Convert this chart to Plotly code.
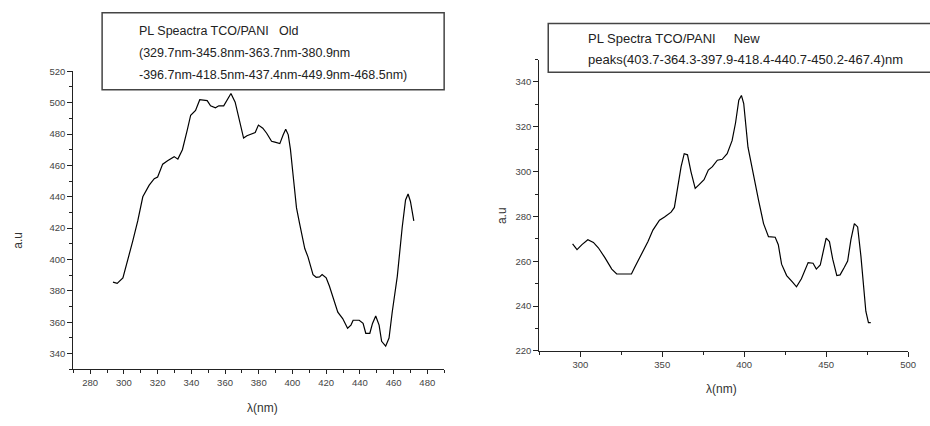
import plotly.graph_objects as go

# ---------------- data ----------------
old_wavelength = [293.5, 296.0, 299.4, 302.4, 305.3, 308.2, 311.2, 315.0, 318.0, 320.0,
                  323.0, 325.9, 329.8, 332.0, 334.7, 337.6, 339.6, 342.5, 345.0, 349.4,
                  351.4, 354.3, 356.3, 359.2, 361.2, 363.5, 366.0, 368.0, 370.0, 371.0,
                  373.0, 376.9, 377.9, 379.8, 382.4, 384.7, 387.6, 389.6, 392.5, 394.5,
                  396.0, 397.5, 398.8, 400.4, 402.4, 404.3, 407.3, 409.2, 412.2, 414.1,
                  416.1, 417.6, 420.0, 421.9, 423.9, 425.9, 426.9, 429.8, 432.7, 434.7,
                  436.0, 439.6, 441.9, 443.5, 445.9, 447.5, 449.4, 451.4, 452.9, 455.3,
                  457.3, 459.2, 462.2, 465.1, 467.1, 468.6, 470.0, 472.0]
old_intensity = [385.6, 384.8, 388.3, 399.7, 412.0, 424.6, 440.0, 447.4, 451.5, 452.6,
                 460.8, 463.0, 465.6, 464.0, 470.0, 482.6, 492.0, 495.0, 501.9, 501.3,
                 498.0, 496.7, 498.0, 498.0, 501.3, 505.8, 500.3, 491.0, 480.5, 477.4,
                 478.9, 480.5, 481.0, 485.7, 483.7, 480.5, 475.4, 474.8, 473.9, 479.5,
                 483.0, 479.5, 470.2, 453.6, 432.9, 422.5, 407.0, 401.7, 390.4, 388.7,
                 388.9, 390.4, 388.3, 383.1, 376.9, 370.7, 366.5, 362.4, 356.2, 358.2,
                 361.3, 361.3, 359.3, 353.0, 353.0, 359.3, 364.0, 358.2, 347.9, 344.8,
                 350.0, 366.6, 389.3, 420.4, 438.0, 441.8, 437.0, 424.6]

new_wavelength = [295.3, 298.0, 301.0, 304.6, 308.0, 311.0, 315.0, 319.2, 322.2, 327.2,
                  331.2, 333.2, 337.3, 341.3, 344.3, 348.3, 351.4, 355.4, 357.4, 359.4,
                  361.5, 363.4, 365.4, 367.5, 370.1, 372.5, 375.5, 378.1, 380.6, 383.6,
                  386.6, 389.6, 392.6, 394.7, 396.7, 398.3, 399.7, 402.3, 406.2, 408.8,
                  411.8, 414.8, 418.9, 420.8, 422.8, 425.9, 429.5, 431.9, 434.9, 439.0,
                  442.0, 444.0, 446.4, 450.0, 452.0, 454.0, 456.5, 458.5, 461.1, 463.1,
                  465.1, 467.2, 469.2, 471.2, 474.2, 475.8, 477.2]
new_intensity = [267.7, 265.2, 267.4, 269.6, 268.4, 266.0, 261.6, 256.5, 254.3, 254.3,
                 254.3, 257.3, 263.0, 268.8, 273.9, 278.3, 279.7, 281.9, 284.0, 292.7,
                 302.2, 308.0, 307.5, 300.0, 292.5, 294.2, 296.4, 300.7, 302.2, 305.1,
                 305.5, 308.0, 313.8, 321.7, 331.9, 334.0, 330.4, 310.9, 295.7, 287.0,
                 276.8, 271.0, 270.7, 267.4, 258.7, 253.6, 250.7, 248.6, 252.2, 259.4,
                 259.1, 256.5, 258.3, 270.3, 268.8, 260.9, 253.6, 253.9, 257.3, 260.1,
                 269.6, 276.8, 275.3, 262.3, 237.7, 232.6, 232.6]

old_legend_lines = ["PL Speactra TCO/PANI\u00a0\u00a0\u00a0Old",
                    "(329.7nm-345.8nm-363.7nm-380.9nm",
                    "-396.7nm-418.5nm-437.4nm-449.9nm-468.5nm)"]
new_legend_lines = ["PL Spectra TCO/PANI\u00a0\u00a0\u00a0\u00a0\u00a0New",
                    "peaks(403.7-364.3-397.9-418.4-440.7-450.2-467.4)nm"]
y_title = "a.u"
x_title = "\u03bb(nm)"

# ---------------- layout helpers (pixel -> paper) ----------------
W, H = 930, 426
def px(x):
    return x / W
def py(y):
    return 1 - y / H

FONT = "Liberation Sans, Arial, sans-serif"
AX = "#222222"

fig = go.Figure()
fig.add_trace(go.Scatter(x=old_wavelength, y=old_intensity, mode="lines",
                         line=dict(color="black", width=1.2), xaxis="x", yaxis="y",
                         showlegend=False, hoverinfo="skip"))
fig.add_trace(go.Scatter(x=new_wavelength, y=new_intensity, mode="lines",
                         line=dict(color="black", width=1.2), xaxis="x2", yaxis="y2",
                         showlegend=False, hoverinfo="skip"))

def axis(domain, rng, dtick, minor_dtick, anchor, ticklen=5):
    return dict(domain=domain, range=rng, dtick=dtick, tick0=0, anchor=anchor,
                showline=True, linecolor=AX, linewidth=1.2, mirror=False,
                ticks="outside", ticklen=ticklen, tickwidth=1, tickcolor=AX,
                minor=dict(dtick=minor_dtick, tick0=0, ticks="outside", ticklen=3,
                           tickwidth=1, tickcolor=AX),
                showgrid=False, zeroline=False,
                tickfont=dict(family=FONT, size=9.5, color="#444444"))

fig.update_layout(
    width=W, height=H, margin=dict(l=0, r=0, t=0, b=0),
    paper_bgcolor="white", plot_bgcolor="white",
    xaxis=axis([px(74), px(448)], [270, 490], 20, 10, "y", 4),
    yaxis=axis([py(373), py(67)], [330, 520], 20, 10, "x", 5),
    xaxis2=axis([px(544), px(916)], [275, 500], 50, 25, "y2", 5),
    yaxis2=axis([py(354), py(55)], [220, 350], 20, 10, "x2", 5),
    showlegend=False,
)

shapes = [
    dict(type="rect", xref="paper", yref="paper", x0=px(103), x1=px(448),
         y0=py(86), y1=py(7), line=dict(color="#444444", width=1.5)),
    dict(type="rect", xref="paper", yref="paper", x0=px(553), x1=px(940),
         y0=py(68), y1=py(18), line=dict(color="#444444", width=1.5)),
]
fig.update_layout(shapes=shapes)

ann = []
for i, t in enumerate(old_legend_lines):
    ann.append(dict(text=t, x=px(138), y=py([26, 48, 71][i]), xref="paper", yref="paper",
                    xanchor="left", yanchor="middle", showarrow=False,
                    font=dict(family=FONT, size=12.5, color="#222222")))
for i, t in enumerate(new_legend_lines):
    ann.append(dict(text=t, x=px(591), y=py([33, 55][i]), xref="paper", yref="paper",
                    xanchor="left", yanchor="middle", showarrow=False,
                    font=dict(family=FONT, size=13, color="#222222")))
# axis titles
for (x, y, t, rot) in [(18, 240, y_title, -90), (507, 215, y_title, -90),
                       (265, 413, x_title, 0), (728, 393, x_title, 0)]:
    ann.append(dict(text=t, x=px(x), y=py(y), xref="paper", yref="paper",
                    xanchor="center", yanchor="middle", showarrow=False, textangle=rot,
                    font=dict(family=FONT, size=12, color="#333333")))
fig.update_layout(annotations=ann)

fig.write_html("out.html", config={"displayModeBar": False},
               post_script="document.body.style.margin='0';document.body.style.overflow='hidden';")
